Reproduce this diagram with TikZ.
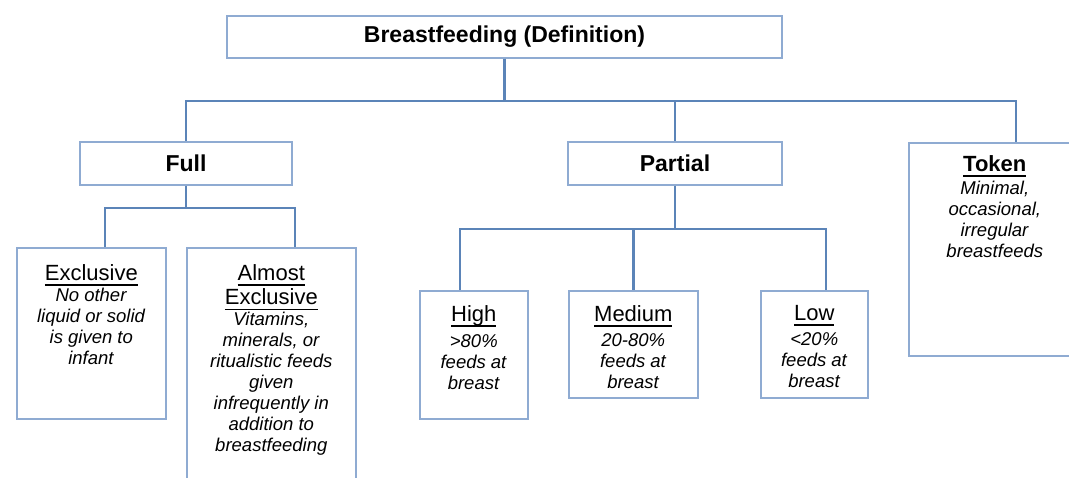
\documentclass[tikz,border=0pt]{standalone}
\usepackage{fontspec}
\setmainfont{Liberation Sans}
\usetikzlibrary{positioning}
\definecolor{linkblue}{HTML}{5B84B8}
\definecolor{boxblue}{HTML}{8FABD2}
\newcommand{\ulbox}[1]{\setbox0=\hbox{#1}\rlap{\rule[-5.5pt]{\wd0}{1.4pt}}\box0}
\newcommand{\hd}[1]{{\fontsize{22}{24}\selectfont\ulbox{#1}}}

\begin{document}
\begin{tikzpicture}[x=1pt, y=1pt,
  box/.style = {draw=boxblue, line width=1.6pt, fill=white, inner sep=0pt},
  head/.style = {box, font=\fontsize{23}{26}\selectfont\bfseries},
  leaf/.style = {box, anchor=north west},
  txt/.style = {inner sep=0pt, align=center, font=\fontsize{18.5}{21}\selectfont},
  link/.style = {draw=linkblue, line width=2.4pt},]

\clip (0,0) rectangle (1069,-477);

\node[head, minimum width=555, minimum height=42] (def) at (504.5,-37) {Breastfeeding (Definition)};
\node[head, minimum width=212, minimum height=43] (full) at (186,-163.5) {Full};
\node[head, minimum width=214, minimum height=43] (partial) at (675,-163.5) {Partial};
\node[leaf, minimum width=172, minimum height=213] (token) at (908,-142) {};

\node[leaf, minimum width=149, minimum height=171] (excl) at (16,-247) {};
\node[leaf, minimum width=169, minimum height=245] (almost) at (186,-247) {};

\node[leaf, minimum width=108, minimum height=128] (high) at (419,-290) {};
\node[leaf, minimum width=129, minimum height=107] (medium) at (568,-290) {};
\node[leaf, minimum width=107, minimum height=107] (low) at (760,-290) {};

\node[txt, below=13pt of token.north] (tokentxt) {{\fontsize{22}{24}\selectfont\bfseries\ulbox{Token}}\\[2pt]
  \textit{Minimal,}\\ \textit{occasional,}\\ \textit{irregular}\\ \textit{breastfeeds}};
\node[txt, below=17pt of excl.north] (excltxt) {\hd{Exclusive}\\
  \textit{No other}\\ \textit{liquid or solid}\\ \textit{is given to}\\ \textit{infant}};
\node[txt, below=17pt of almost.north] (almosttxt) {\hd{Almost}\\[2pt] \hd{Exclusive}\\
  \textit{Vitamins,}\\ \textit{minerals, or}\\ \textit{ritualistic feeds}\\ \textit{given}\\
  \textit{infrequently in}\\ \textit{addition to}\\ \textit{breastfeeding}};
\node[txt, below=15pt of high.north] (hightxt) {\hd{High}\\[5pt]
  \textit{>80\%}\\ \textit{feeds at}\\ \textit{breast}};
\node[txt, below=15pt of medium.north] (mediumtxt) {\hd{Medium}\\[4pt]
  \textit{20-80\%}\\ \textit{feeds at}\\ \textit{breast}};
\node[txt, below=15pt of low.north] (lowtxt) {\hd{Low}\\[4pt]
  \textit{<20\%}\\ \textit{feeds at}\\ \textit{breast}};

\draw[link] (def.south) -- ++(0,-42) -| (full.north);
\draw[link] (def.south) -- ++(0,-42) -| (partial.north);
\draw[link] (def.south) -- ++(0,-42) -| ([xshift=21]token.north);

\draw[link] (full.south) -- ++(0,-22) -| ([xshift=13.5]excl.north);
\draw[link] (full.south) -- ++(0,-22) -| ([xshift=23.5]almost.north);

\draw[link] (partial.south) -- ++(0,-43) -| ([xshift=-14]high.north);
\draw[link] (partial.south) -- ++(0,-43) -| (medium.north);
\draw[link] (partial.south) -- ++(0,-43) -| ([xshift=11.5]low.north);

\end{tikzpicture}
\end{document}
